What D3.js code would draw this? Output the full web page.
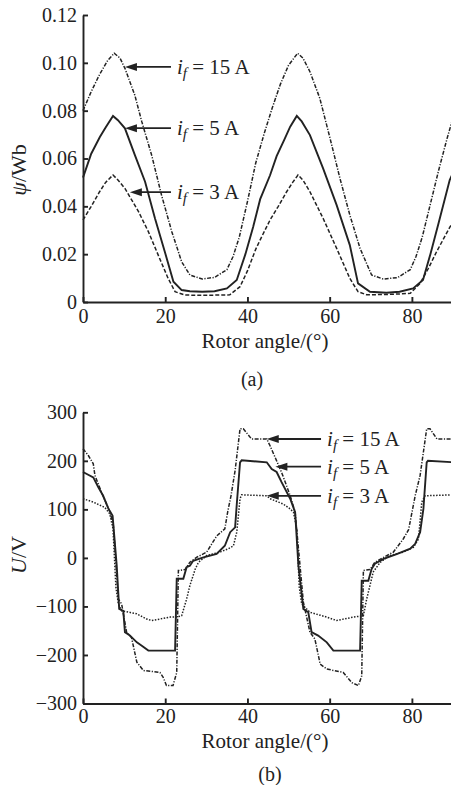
<!DOCTYPE html>
<html>
<head>
<meta charset="utf-8">
<script src="https://cdn.jsdelivr.net/npm/d3@7"></script>
<style>
  html, body { margin: 0; padding: 0; background: #fff; }
  svg { display: block; font-family: "Liberation Serif", "Times New Roman", serif; }
  .axis path, .axis line { stroke: #222; stroke-width: 1.9; }
  .axis text { font-size: 20px; fill: #222; font-family: "Liberation Serif", serif; }
  .series { fill: none; stroke: #222; }
  .label { fill: #222; }
</style>
</head>
<body>
<svg id="chart" width="451" height="785"></svg>
<script>
// rotor angle ticks (deg)
const angleTicks = [0, 20, 40, 60, 80]
const fluxTicks = [0, 0.02, 0.04, 0.06, 0.08, 0.10, 0.12]
const emfTicks = [-300, -200, -100, 0, 100, 200, 300]

// flux linkage, Wb  [angle, psi]
const flux15A = [[0,0.080],[2,0.088],[4,0.095],[6,0.101],[7.6,0.104],[9,0.102],[10.2,0.0977],[12.6,0.0865],[14.3,0.0754],[16.7,0.0614],[19.1,0.0447],[21.6,0.0294],[24,0.0168],[26,0.0113],[29,0.0096],[32,0.0103],[35,0.0135],[36.5,0.019],[38,0.027],[40,0.042],[42,0.058],[44,0.070],[46,0.081],[48,0.091],[50,0.099],[52.2,0.104],[53.5,0.102],[55.2,0.0963],[57.6,0.0852],[60.1,0.0684],[62.5,0.0517],[64.9,0.0364],[67.4,0.0224],[70.2,0.0113],[73,0.0096],[76.5,0.0102],[79.6,0.0135],[81,0.019],[82.5,0.027],[84.5,0.041],[86.5,0.055],[88.5,0.068],[90,0.077]]
const flux5A = [[0,0.052],[2,0.062],[4.1,0.069],[5.5,0.073],[7.3,0.0778],[8.5,0.076],[10.2,0.0726],[12.6,0.0615],[15.1,0.0503],[17.5,0.035],[19.9,0.021],[22,0.0085],[24,0.005],[26,0.0045],[29,0.0043],[32,0.0045],[35,0.0057],[37.4,0.0092],[39.5,0.020],[41.4,0.0315],[43.1,0.043],[45.5,0.053],[47.1,0.061],[49,0.068],[50.4,0.0733],[52,0.0778],[53.2,0.0755],[55.2,0.0698],[58.4,0.0559],[61.7,0.0405],[64.9,0.0238],[66.9,0.0078],[69.8,0.0043],[73.8,0.0039],[77,0.0043],[80.3,0.0057],[82.7,0.0092],[84.5,0.020],[86.5,0.033],[89.2,0.051],[90,0.054]]
const flux3A = [[0,0.0343],[2,0.040],[4,0.046],[5.5,0.050],[7.3,0.0531],[8.5,0.051],[10.2,0.0475],[13.5,0.0378],[15.9,0.0294],[18.3,0.0196],[20.7,0.0099],[22.4,0.0043],[24.8,0.0029],[30,0.0028],[35.7,0.003],[38.2,0.0064],[40,0.013],[42,0.022],[43.1,0.026],[45.5,0.0343],[47.5,0.040],[49.5,0.046],[51,0.050],[52.3,0.0531],[53.5,0.051],[55.2,0.0461],[58.4,0.035],[61.7,0.0224],[64.9,0.0099],[66.9,0.0043],[69,0.003],[75,0.0032],[79.6,0.0036],[82,0.0078],[84,0.014],[86,0.021],[89.3,0.0315],[90,0.033]]

// back emf, V  [angle, U]
const emf15A = [[0,225],[1.3,211],[2.5,194],[2.9,170],[4.5,135],[6.6,94],[7.4,66],[8.6,-85],[9.4,-95],[10.6,-153],[11.8,-164],[13.1,-215],[14.7,-232],[18.7,-236],[19.5,-246],[20.3,-263],[21.9,-263],[22.8,-236],[23.2,-26],[24.8,-24],[26,-9],[27.6,1],[30.1,12],[32.5,45],[34.5,60],[35.2,95],[36,128],[37,180],[38.2,266],[39,266],[41,245],[44.7,245],[45.5,231],[47.1,200],[48.5,172],[50.4,128],[51.6,94],[51.9,66],[53.6,-91],[55.2,-153],[56.4,-167],[57.7,-219],[59.3,-229],[63.3,-236],[65.4,-257],[67,-263],[67.8,-243],[68.2,-26],[69.8,-24],[71,-9],[73.1,1],[75.5,12],[77.9,39],[79.2,58],[80.8,128],[82,170],[83.6,266],[84.4,266],[86.1,245],[90,245]]
const emf5A = [[0,177],[2.5,166],[3.7,146],[4.9,128],[6.2,101],[6.7,94],[7.2,87],[8.2,-16],[8.8,-105],[9.8,-109],[10.2,-153],[11.4,-160],[13.1,-174],[14.3,-181],[15.9,-191],[22.4,-191],[22.8,-43],[24.4,-43],[25.2,-19],[26,-16],[26.8,-6],[29.3,1],[32.5,8],[34.5,25],[35.8,53],[37,63],[37.4,110],[38.2,197],[38.6,201],[44.7,197],[45.9,183],[47.1,177],[48.3,156],[50.4,122],[51.6,94],[52.4,-16],[53.6,-105],[54.8,-112],[55.6,-153],[57.2,-160],[59.3,-174],[60.9,-191],[67.4,-191],[67.8,-47],[69.4,-47],[70.2,-23],[71,-12],[73.1,-2],[76.3,8],[79.6,19],[80.8,29],[82,53],[82.8,101],[83.6,197],[83.9,200],[90,197]]
const emf3A = [[0,122],[2.5,115],[5.3,104],[6.5,91],[7.3,60],[8,-60],[8.6,-95],[9.4,-109],[13,-115],[15.5,-126],[16.7,-129],[18.7,-126],[21.2,-122],[22.8,-122],[24,-119],[25.2,-85],[26,-57],[27.3,-23],[28.1,-9],[30.1,5],[33.3,12],[35.4,19],[36.6,25],[37.4,53],[38.2,122],[38.6,130],[44.7,128],[45.5,122],[48.7,111],[50.4,101],[51.2,94],[52,60],[52.6,-60],[53.2,-95],[55.2,-112],[59.3,-122],[61.7,-129],[65.8,-122],[68.2,-119],[69,-85],[70.6,-29],[72.3,-9],[74.7,5],[77.9,12],[80.4,22],[81.6,39],[82.4,115],[83.2,128],[90,130]]

// arrow labels: tip and tail in data units
const fluxNotes = [
  { current: "15 A", tip: [10.2, 0.0983], tail: 21.4 },
  { current: "5 A",  tip: [10.2, 0.0727], tail: 21.4 },
  { current: "3 A",  tip: [11.4, 0.0459], tail: 21.4 }
]
const emfNotes = [
  { current: "15 A", tip: [44.7, 245], tail: 57.9 },
  { current: "5 A",  tip: [46.8, 188], tail: 57.9 },
  { current: "3 A",  tip: [44.7, 128], tail: 57.9 }
]

const svg = d3.select("#chart")
const x = d3.scaleLinear().domain([0, 90]).range([83, 453])

function drawPanel(opt) {
  const y = d3.scaleLinear().domain(opt.domain).range(opt.range)
  const g = svg.append("g")

  const line = d3.line().x(d => x(d[0])).y(d => y(d[1]))
  opt.series.forEach(s => {
    g.append("path")
      .datum(s.data)
      .attr("class", "series")
      .attr("d", line)
      .attr("stroke-width", s.width)
      .attr("stroke-dasharray", s.dash)
  })

  g.append("g")
    .attr("class", "axis")
    .attr("transform", "translate(0," + opt.range[0] + ")")
    .call(d3.axisBottom(x).tickValues(angleTicks).tickSize(-5).tickSizeOuter(0).tickPadding(opt.xPad))
  g.append("g")
    .attr("class", "axis")
    .attr("transform", "translate(" + x(0) + ",0)")
    .call(d3.axisLeft(y).tickValues(opt.ticks).tickFormat(opt.format).tickSize(-5).tickSizeOuter(0).tickPadding(6))
  g.selectAll(".axis .domain").attr("fill", "none")

  g.append("text")
    .attr("class", "label")
    .attr("x", 265).attr("y", opt.titleY)
    .attr("text-anchor", "middle")
    .attr("font-size", 21)
    .text("Rotor angle/(\u00b0)")

  const yl = g.append("text")
    .attr("class", "label")
    .attr("transform", "translate(26," + opt.yLabelAt + ") rotate(-90)")
    .attr("text-anchor", "middle")
    .attr("font-size", 22)
  yl.append("tspan").attr("font-style", "italic").text(opt.yVar)
  yl.append("tspan").text(opt.yUnit)

  g.append("text")
    .attr("class", "label")
    .attr("x", opt.capX).attr("y", opt.capY)
    .attr("text-anchor", "middle")
    .attr("font-size", 20)
    .text(opt.caption)

  opt.notes.forEach(n => {
    const tx = x(n.tip[0]), ty = y(n.tip[1]), ex = x(n.tail)
    g.append("line")
      .attr("x1", tx + 8).attr("x2", ex)
      .attr("y1", ty).attr("y2", ty)
      .attr("stroke", "#222").attr("stroke-width", 1.8)
    g.append("path")
      .attr("d", `M${tx},${ty}L${tx + 12},${ty - 4}L${tx + 12},${ty + 4}Z`)
      .attr("fill", "#222")
    const t = g.append("text")
      .attr("class", "label")
      .attr("x", ex + 6).attr("y", ty + 7)
      .attr("font-size", 21)
    t.append("tspan").attr("font-style", "italic").text("i")
    t.append("tspan").attr("font-style", "italic").attr("font-size", 15).attr("dy", 4).text("f")
    t.append("tspan").attr("dy", -4).text(" = " + n.current)
  })
}

drawPanel({
  domain: [0, 0.12], range: [302, 15], ticks: fluxTicks,
  format: d => d === 0 ? "0" : d3.format(".2f")(d),
  xPad: 6.5, titleY: 348, yLabelAt: 170, yVar: "\u03c8", yUnit: "/Wb",
  caption: "(a)", capX: 252, capY: 386,
  notes: fluxNotes,
  series: [
    { data: flux15A, width: 1.5, dash: "4,1.5,1.2,1.5" },
    { data: flux5A, width: 1.9, dash: null },
    { data: flux3A, width: 1.5, dash: "4,2" }
  ]
})

drawPanel({
  domain: [-300, 300], range: [703.5, 412.3], ticks: emfTicks,
  format: d3.format("d"),
  xPad: 5, titleY: 748, yLabelAt: 555, yVar: "U", yUnit: "/V",
  caption: "(b)", capX: 270, capY: 781,
  notes: emfNotes,
  series: [
    { data: emf15A, width: 1.5, dash: "4,1.5,1.2,1.5" },
    { data: emf5A, width: 1.9, dash: null },
    { data: emf3A, width: 1.5, dash: "1.5,1.5" }
  ]
})
</script>
</body>
</html>
